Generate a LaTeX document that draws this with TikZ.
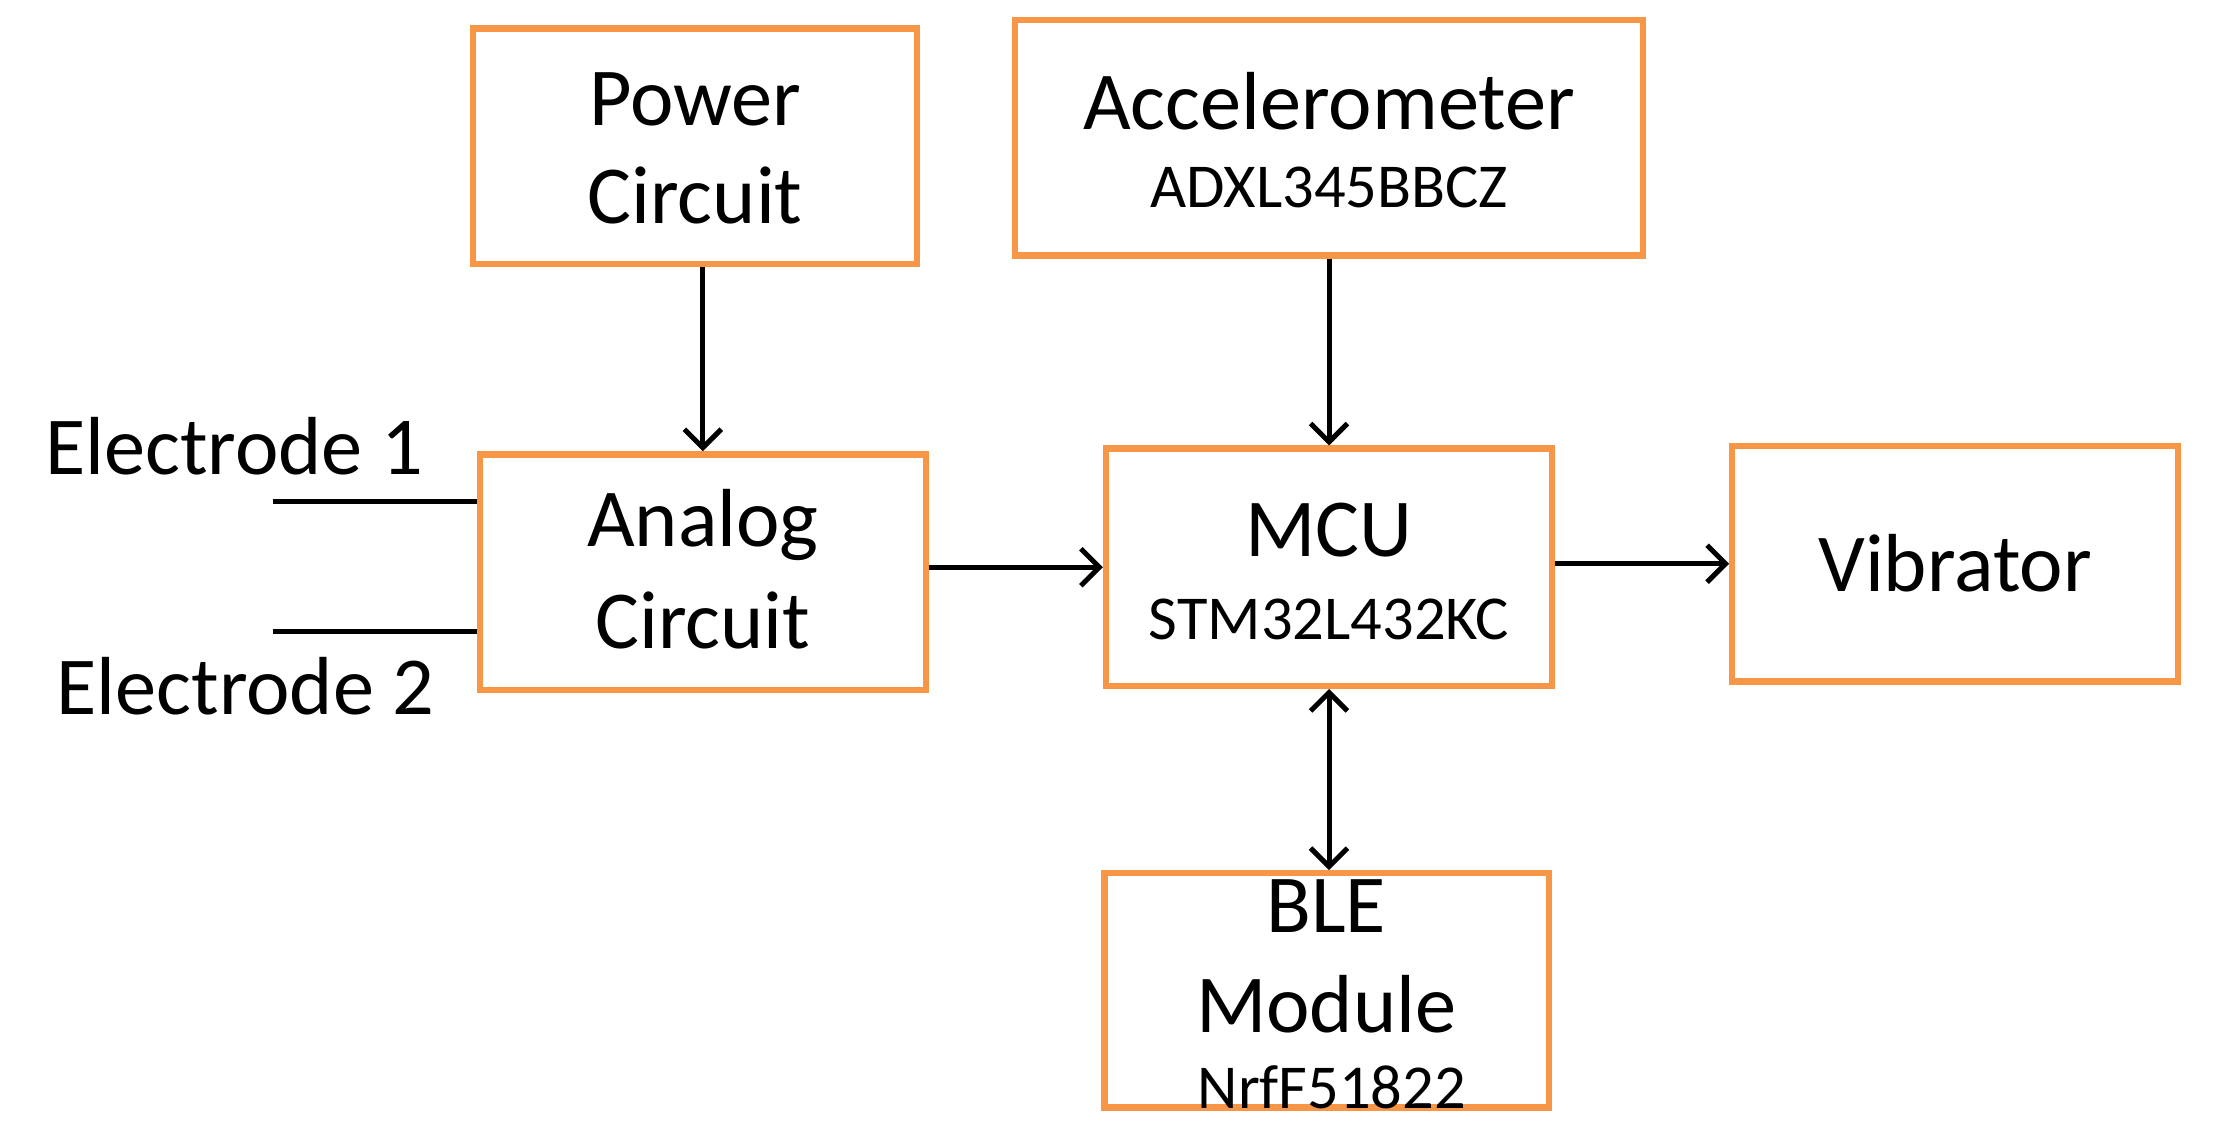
\documentclass[tikz,border=0pt]{standalone}
\usepackage{fontspec}
\setmainfont{Carlito}
\usetikzlibrary{arrows.meta}
\definecolor{org}{RGB}{247,150,70}
\begin{document}
\begin{tikzpicture}[x=1pt,y=-1pt,
 box/.style={draw=org,line width=4.5pt,inner sep=0pt},
 bt/.style={font=\fontsize{58}{60}\selectfont},
 st/.style={font=\fontsize{44}{46}\selectfont},
 arr/.style={line width=3.5pt,-{Straight Barb[length=13pt,width=26pt]}}]
\useasboundingbox (0,0) rectangle (1560,796);
\node[box,minimum width=313pt,minimum height=166pt] (pow) at (489.5,103) {};
\node[bt] (pow1) at (489.5,70) {Power};
\node[bt] (pow2) at (489.5,138) {Circuit};
\node[box,minimum width=442pt,minimum height=166pt] (acc) at (936,97) {};
\node[bt] (acc1) at (936,71) {Accelerometer};
\node[st] (acc2) at (936,132) {ADXL345BBCZ};
\node[box,minimum width=314pt,minimum height=166pt] (ana) at (495,403) {};
\node[bt] (ana1) at (495,370) {Analog};
\node[bt] (ana2) at (495,437) {Circuit};
\node[box,minimum width=314pt,minimum height=167pt] (mcu) at (936,399.5) {};
\node[bt] (mcu1) at (936,373) {MCU};
\node[st] (mcu2) at (936,436) {STM32L432KC};
\node[box,minimum width=314pt,minimum height=166pt,bt] (vib) at (1377,397) {Vibrator};
\node[box,minimum width=313pt,minimum height=165pt] (ble) at (934.5,697.5) {};
\node[bt] (bt1) at (934,638) {BLE};
\node[bt] (bt2) at (934,707) {Module};
\node[st] (bt3) at (938,766) {NrfF51822};
\node[bt] (e1) at (165,314) {Electrode 1};
\node[bt] (e2) at (173,483) {Electrode 2};
\coordinate (c1) at (192,353);
\coordinate (c2) at (192,445);
\draw[line width=3.5pt] (c1) -- (c1 -| ana.west);
\draw[line width=3.5pt] (c2) -- (c2 -| ana.west);
\draw[arr] (pow.south -| ana.north) -- (ana.north);
\draw[arr] (acc.south) -- (mcu.north);
\draw[arr] (ana.east |- mcu) -- (mcu.west);
\draw[arr] (mcu.east |- vib) -- (vib.west);
\draw[arr,{Straight Barb[length=13pt,width=26pt]}-{Straight Barb[length=13pt,width=26pt]}] (mcu.south) -- (ble.north -| mcu);
\end{tikzpicture}
\end{document}
